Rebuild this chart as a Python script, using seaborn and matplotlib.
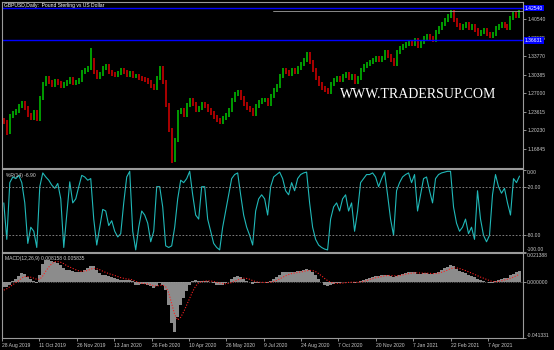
import numpy as np
import pandas as pd
import matplotlib
matplotlib.use("Agg")
import matplotlib.pyplot as plt
import matplotlib.transforms as mtransforms
import seaborn as sns

# ---------------- data ----------------
close = [
    1.2177, 1.1994, 1.2286, 1.2341, 1.2377, 1.2468, 1.2523, 1.2432, 1.2304, 1.2250,
    1.2359, 1.2231, 1.2614, 1.2869, 1.2979, 1.2906, 1.2851, 1.2924, 1.2888, 1.2833,
    1.2869, 1.2906, 1.2960, 1.2888, 1.2906, 1.2942, 1.3088, 1.3124, 1.3161, 1.3307,
    1.3088, 1.2997, 1.3052, 1.3161, 1.3197, 1.3088, 1.3052, 1.3033, 1.3070, 1.3124,
    1.3088, 1.3033, 1.3070, 1.3015, 1.3015, 1.2979, 1.2960, 1.2942, 1.2906, 1.2833,
    1.2796, 1.2979, 1.3161, 1.2906, 1.2487, 1.2031, 1.1484, 1.1849, 1.2359, 1.2395,
    1.2304, 1.2487, 1.2578, 1.2505, 1.2395, 1.2432, 1.2505, 1.2468, 1.2395, 1.2341,
    1.2268, 1.2213, 1.2177, 1.2250, 1.2304, 1.2395, 1.2578, 1.2687, 1.2723, 1.2614,
    1.2505, 1.2432, 1.2395, 1.2323, 1.2468, 1.2541, 1.2578, 1.2578, 1.2505, 1.2651,
    1.2760, 1.2833, 1.3015, 1.3124, 1.3088, 1.3052, 1.3124, 1.3088, 1.3161, 1.3234,
    1.3307, 1.3416, 1.3270, 1.3124, 1.2979, 1.2869, 1.2796, 1.2760, 1.2723, 1.2869,
    1.2942, 1.2979, 1.2942, 1.3015, 1.3052, 1.2979, 1.3015, 1.2906, 1.2979, 1.3124,
    1.3197, 1.3234, 1.3270, 1.3307, 1.3343, 1.3307, 1.3343, 1.3453, 1.3380, 1.3307,
    1.3234, 1.3453, 1.3525, 1.3562, 1.3598, 1.3635, 1.3598, 1.3671, 1.3562, 1.3635,
    1.3708, 1.3744, 1.3708, 1.3671, 1.3817, 1.3890, 1.3963, 1.4036, 1.4109, 1.4182,
    1.4036, 1.3945, 1.3890, 1.3926, 1.3963, 1.3890, 1.3926, 1.3853, 1.3781, 1.3817,
    1.3853, 1.3781, 1.3744, 1.3781, 1.3890, 1.3926, 1.3963, 1.3926, 1.3890, 1.4072,
    1.4145, 1.4109, 1.4182,
]
first_open = 1.2213
extreme_high = {29: 1.3525, 149: 1.4218}
extreme_low = {1: 1.1940, 56: 1.1429}

wpr = [
    -40, -85, -15, -8, -10, -6, -15, -40, -90, -70,
    -75, -95, -20, -3, -8, -12, -18, -22, -16, -35,
    -95, -55, -14, -40, -35, -20, -6, -8, -12, -10,
    -60, -92, -70, -48, -50, -68, -62, -75, -82, -78,
    -40, -8, -1, -75, -98, -70, -50, -55, -65, -88,
    -75, -20, -20, -45, -93, -95, -93, -70, -35, -12,
    -15, -10, -1, -30, -55, -60, -20, -20, -60, -75,
    -90, -95, -98, -70, -50, -30, -10, -5, -3, -30,
    -55, -70, -80, -92, -50, -35, -30, -35, -55, -20,
    -8, -5, -2, -10, -25, -30, -15, -25, -10, -5,
    -3, -2, -40, -70, -85, -92, -95, -97, -98, -60,
    -45, -40, -50, -35, -30, -50, -40, -75, -50, -15,
    -10, -5, -5, -3, -8, -20, -10, -2, -30, -60,
    -80, -25, -15, -8, -5, -3, -15, -5, -50, -30,
    -10, -8, -25, -40, -10, -5, -3, -2, -1, -1,
    -45, -65, -75, -70, -60, -78, -70, -85, -25, -60,
    -80, -88, -80, -30, -5, -20, -28, -22, -40, -55,
    -10, -15, -6.9,
]

macd_hist = [
    -0.0037, -0.0040, -0.0020, 0.0005, 0.0020, 0.0045, 0.0065, 0.0060, 0.0035, 0.0025,
    0.0010, -0.0005, 0.0050, 0.0130, 0.0160, 0.0160, 0.0155, 0.0150, 0.0140, 0.0125,
    0.0100, 0.0090, 0.0085, 0.0080, 0.0075, 0.0070, 0.0075, 0.0090, 0.0105, 0.0120,
    0.0115, 0.0085, 0.0065, 0.0055, 0.0050, 0.0045, 0.0040, 0.0030, 0.0020, 0.0015,
    0.0015, 0.0015, 0.0015, 0.0005, -0.0020, -0.0025, -0.0015, -0.0015, -0.0020, -0.0030,
    -0.0045, -0.0030, -0.0010, -0.0020, -0.0060, -0.0170, -0.0300, -0.0370, -0.0260, -0.0170,
    -0.0120, -0.0070, -0.0020, 0.0005, 0.0015, 0.0010, 0.0010, 0.0010, 0.0005, 0.0000,
    -0.0010, -0.0020, -0.0025, -0.0020, -0.0010, 0.0000, 0.0020, 0.0035, 0.0045, 0.0040,
    0.0025, 0.0010, 0.0000, -0.0015, -0.0010, -0.0005, 0.0000, 0.0000, -0.0005, 0.0005,
    0.0020, 0.0035, 0.0055, 0.0070, 0.0075, 0.0075, 0.0075, 0.0075, 0.0078, 0.0082,
    0.0088, 0.0095, 0.0090, 0.0075, 0.0050, 0.0025, 0.0000, -0.0020, -0.0030, -0.0025,
    -0.0015, -0.0010, -0.0008, -0.0003, 0.0000, 0.0000, 0.0000, -0.0005, -0.0003, 0.0005,
    0.0015, 0.0025, 0.0032, 0.0040, 0.0045, 0.0045, 0.0048, 0.0055, 0.0052, 0.0045,
    0.0035, 0.0045, 0.0055, 0.0062, 0.0068, 0.0072, 0.0070, 0.0072, 0.0062, 0.0062,
    0.0065, 0.0066, 0.0062, 0.0056, 0.0065, 0.0075, 0.0088, 0.0100, 0.0112, 0.0125,
    0.0115, 0.0098, 0.0082, 0.0072, 0.0065, 0.0052, 0.0045, 0.0035, 0.0020, 0.0012,
    0.0008, 0.0000, -0.0008, -0.0008, 0.0005, 0.0015, 0.0025, 0.0030, 0.0030, 0.0048,
    0.0062, 0.0070, 0.0082,
]

macd_signal = [
    -0.0060, -0.0050, -0.0035, -0.0020, -0.0005, 0.0010, 0.0030, 0.0040, 0.0040, 0.0035,
    0.0028, 0.0020, 0.0020, 0.0045, 0.0080, 0.0110, 0.0135, 0.0150, 0.0150, 0.0145,
    0.0135, 0.0120, 0.0110, 0.0100, 0.0090, 0.0082, 0.0078, 0.0080, 0.0085, 0.0095,
    0.0100, 0.0098, 0.0090, 0.0080, 0.0070, 0.0062, 0.0055, 0.0048, 0.0040, 0.0032,
    0.0027, 0.0022, 0.0020, 0.0015, 0.0005, -0.0005, -0.0010, -0.0012, -0.0015, -0.0020,
    -0.0028, -0.0030, -0.0025, -0.0022, -0.0035, -0.0080, -0.0160, -0.0240, -0.0280, -0.0260,
    -0.0220, -0.0170, -0.0120, -0.0070, -0.0030, -0.0005, 0.0002, 0.0006, 0.0008, 0.0007,
    0.0004, -0.0002, -0.0008, -0.0012, -0.0013, -0.0010, -0.0004, 0.0005, 0.0015, 0.0024,
    0.0028, 0.0026, 0.0020, 0.0010, 0.0003, -0.0002, -0.0003, -0.0003, -0.0003, -0.0002,
    0.0003, 0.0011, 0.0022, 0.0035, 0.0046, 0.0055, 0.0062, 0.0066, 0.0070, 0.0074,
    0.0078, 0.0083, 0.0086, 0.0084, 0.0076, 0.0062, 0.0045, 0.0026, 0.0010, -0.0002,
    -0.0008, -0.0010, -0.0010, -0.0008, -0.0005, -0.0003, -0.0002, -0.0002, -0.0002, 0.0000,
    0.0004, 0.0010, 0.0017, 0.0024, 0.0031, 0.0036, 0.0040, 0.0045, 0.0048, 0.0048,
    0.0045, 0.0045, 0.0047, 0.0052, 0.0057, 0.0062, 0.0065, 0.0068, 0.0067, 0.0066,
    0.0065, 0.0065, 0.0064, 0.0062, 0.0062, 0.0065, 0.0071, 0.0079, 0.0088, 0.0098,
    0.0104, 0.0104, 0.0099, 0.0092, 0.0084, 0.0075, 0.0066, 0.0056, 0.0046, 0.0036,
    0.0028, 0.0019, 0.0010, 0.0004, 0.0002, 0.0004, 0.0009, 0.0015, 0.0020, 0.0027,
    0.0036, 0.0046, 0.0058,
]

date_labels = ["28 Aug 2019", "11 Oct 2019", "26 Nov 2019", "13 Jan 2020", "26 Feb 2020",
               "10 Apr 2020", "26 May 2020", "9 Jul 2020", "24 Aug 2020", "7 Oct 2020",
               "20 Nov 2020", "7 Jan 2021", "22 Feb 2021", "7 Apr 2021"]
bars_per_label = 12.467
price_ticks = [1.16845, 1.20230, 1.23615, 1.27000, 1.30385, 1.33770, 1.37155, 1.40540]
hlines = [1.42540, 1.36631]
hline_labels = ["1.42540", "1.36631"]
bid_price = 1.42000
wpr_levels = [-20, -80]
wpr_ticks = [0, -20, -80, -100]
macd_ticks = [0.021388, 0.0, -0.041331]
macd_label_values = ["0.008158", "0.005835"]

# ---------------- style ----------------
sns.set_style("dark", rc={"axes.facecolor": "black", "figure.facecolor": "black",
                          "axes.edgecolor": "#9a9a9a", "text.color": "#d8d8d8",
                          "xtick.color": "#c8c8c8", "ytick.color": "#c8c8c8"})
plt.rcParams['font.family'] = ['Liberation Sans', 'DejaVu Sans']

UP = '#00a800'
DN = '#b80000'
FS = 3.6
WICK = 0.0030   # drawn shadow length beyond the body (style)

n = len(close)
idx = np.arange(n)
df = pd.DataFrame({"i": idx, "close": close})
df["open"] = df["close"].shift(1).fillna(first_open)
df["high"] = df[["open", "close"]].max(axis=1) + WICK
df["low"] = df[["open", "close"]].min(axis=1) - WICK
for k, v in extreme_high.items():
    df.loc[k, "high"] = max(df.loc[k, "high"], v)
for k, v in extreme_low.items():
    df.loc[k, "low"] = min(df.loc[k, "low"], v)
df["up"] = df["close"] >= df["open"]

fig = plt.figure(figsize=(5.54, 3.5), dpi=100, facecolor='black')
L, W = 2 / 554, 521 / 554
ax1 = fig.add_axes([L, 1 - 168 / 350, W, 166 / 350])
ax2 = fig.add_axes([L, 1 - 252 / 350, W, 83 / 350])
ax3 = fig.add_axes([L, 1 - 338 / 350, W, 85 / 350])

xlim = (-0.6, 173.17)
for ax in (ax1, ax2, ax3):
    ax.set_facecolor('black')
    ax.set_xlim(*xlim)
    ax.grid(False)
    for s in ax.spines.values():
        s.set_color('#9a9a9a')
        s.set_linewidth(0.8)
    ax.yaxis.tick_right()
    ax.tick_params(axis='y', which='both', direction='out', length=2.0, width=0.5,
                   colors='#c8c8c8', labelsize=FS, pad=1)
    ax.tick_params(axis='x', which='both', bottom=False, labelbottom=False)

# ---------------- price panel ----------------
ax1.set_ylim(1.13382, 1.43639)
ax1.vlines(df.loc[df.up, "i"], df.loc[df.up, "low"], df.loc[df.up, "high"],
           colors=UP, linewidth=1.3)
ax1.vlines(df.loc[~df.up, "i"], df.loc[~df.up, "low"], df.loc[~df.up, "high"],
           colors=DN, linewidth=1.3)
ax1.set_yticks(price_ticks)
ax1.set_yticklabels([f"{p:.5f}" for p in price_ticks])
ax1.axhline(bid_price, color='#a0a0a0', linewidth=0.6, xmin=0.52)
for v in hlines:
    ax1.axhline(v, color='#0000ff', linewidth=1.0)
trans = mtransforms.blended_transform_factory(ax1.transAxes, ax1.transData)
for v, t in zip(hlines, hline_labels):
    ax1.text(1.004, v, t, transform=trans, ha='left', va='center', fontsize=FS,
             color='white', clip_on=False, zorder=10,
             bbox=dict(facecolor='#0000ff', edgecolor='none', pad=0.6))
fig.text(4 / 554, 1 - 5 / 350, "GBPUSD,Daily:  Pound Sterling vs US Dollar",
         ha='left', va='center', fontsize=FS, color='white')
fig.text(340 / 554, 1 - 95 / 350, "WWW.TRADERSUP.COM", ha='left', va='center',
         fontsize=10, color='white', family='Liberation Serif')

# ---------------- Williams %R panel ----------------
ax2.set_ylim(-100.6, 1.85)
sns.lineplot(x=idx, y=wpr, ax=ax2, color='#20b8b8', linewidth=0.8)
for lv in wpr_levels:
    ax2.axhline(lv, color='#909090', linewidth=0.6, linestyle=(0, (2, 2)))
ax2.set_yticks(wpr_ticks)
ax2.set_yticklabels([f"{v:.2f}" for v in wpr_ticks])
lab = ax2.get_yticklabels()
lab[0].set_va('top')
lab[-1].set_va('bottom')
ax2.set_xlabel("")
ax2.set_ylabel("")
ax2.text(4 / 521, 0.92, f"%R(14) {wpr[-1]:.2f}", transform=ax2.transAxes,
         ha='left', va='center', fontsize=FS, color='#d0d0d0')

# ---------------- MACD panel ----------------
ax3.set_ylim(-0.041331, 0.021388)
ax3.bar(idx, macd_hist, width=1.0, color='#8c8c8c', linewidth=0)
ax3.axhline(0, color='#a0a0a0', linewidth=0.5, linestyle=(0, (1, 1.5)))
sns.lineplot(x=idx, y=macd_signal, ax=ax3, color='#ff2020', linewidth=0.8,
             linestyle=(0, (1, 1.5)))
ax3.set_yticks(macd_ticks)
ax3.set_yticklabels([f"{v:.6f}" for v in macd_ticks])
lab = ax3.get_yticklabels()
lab[0].set_va('top')
lab[-1].set_va('bottom')
ax3.set_xlabel("")
ax3.set_ylabel("")
ax3.text(3 / 521, 0.935, "MACD(12,26,9) " + " ".join(macd_label_values),
         transform=ax3.transAxes, ha='left', va='center', fontsize=FS, color='#d0d0d0')

xt = [-0.6 + bars_per_label * k for k in range(len(date_labels))]
ax3.set_xticks(xt)
ax3.set_xticklabels(date_labels)
ax3.tick_params(axis='x', which='both', bottom=True, labelbottom=True, direction='out',
                length=2.5, width=0.5, colors='#c8c8c8', labelsize=FS, pad=1)
for t in ax3.get_xticklabels():
    t.set_ha('left')

fig.savefig("out.png", dpi=100, facecolor='black')
